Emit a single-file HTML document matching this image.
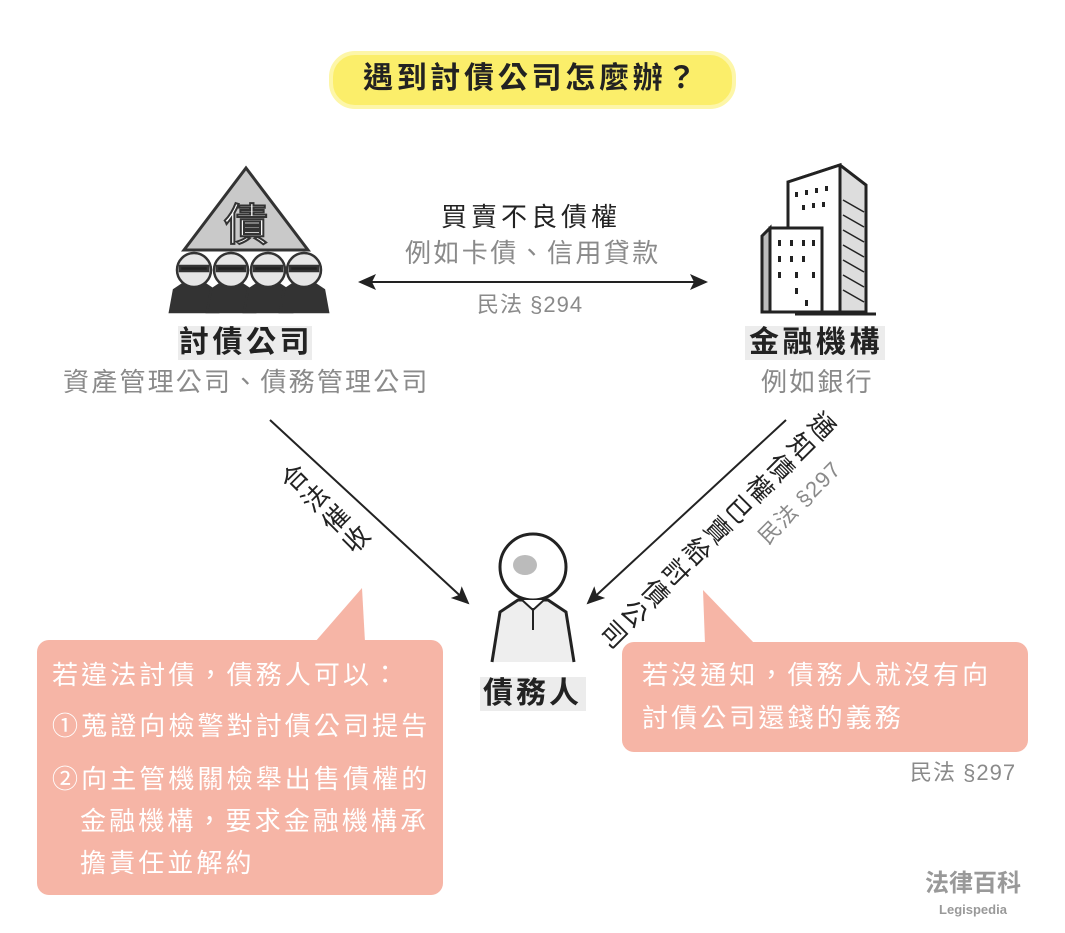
<!DOCTYPE html>
<html><head><meta charset="utf-8">
<style>
body{margin:0;background:#fff;}
#c{position:relative;width:1065px;height:933px;overflow:hidden;font-family:"Liberation Sans","Noto Sans CJK TC",sans-serif;}
.t{position:absolute;white-space:nowrap;line-height:1;}
.c{transform:translateX(-50%);}
.g{color:#8a8a8a;}
.b{font-weight:bold;color:#222;}
.bub{position:absolute;background:#f6b5a6;border-radius:12px;}
.w{color:#fff;font-size:26px;letter-spacing:3.1px;}
</style></head><body>
<div id="c">
<svg width="1065" height="933" style="position:absolute;left:0;top:0">
<defs>
<marker id="ah2" markerWidth="18" markerHeight="18" refX="16" refY="9" orient="auto" markerUnits="userSpaceOnUse" viewBox="0 0 18 18"><path d="M0,1 L18,9 L0,17 L4,9z" fill="#222"/></marker>
<marker id="as" markerWidth="18" markerHeight="18" refX="2" refY="9" orient="auto" markerUnits="userSpaceOnUse" viewBox="0 0 18 18"><path d="M18,1 L0,9 L18,17 L14,9z" fill="#222"/></marker>
</defs>
<rect x="331" y="53" width="403" height="54" rx="24" fill="#fbee6a" stroke="#fdf6a8" stroke-width="4"/>
<polygon points="246,168 308,250 184,250" fill="#c9c9c9" stroke="#333" stroke-width="3"/>
<text x="246" y="240" font-size="44" text-anchor="middle" fill="#fff" stroke="#333" stroke-width="2" font-family="Noto Sans CJK TC">債</text>
<g stroke="#333" stroke-width="2.5">
<g id="p"><path d="M170,312 L174,290 L186,282 L202,282 L214,290 L218,312z" fill="#333"/><circle cx="194" cy="270" r="17" fill="#e6e6e6"/><rect x="180" y="266" width="28" height="5" fill="#222"/></g>
<use href="#p" x="37"/><use href="#p" x="74"/><use href="#p" x="110"/>
</g>
<g stroke="#222" stroke-width="3" fill="#fff">
<polygon points="788,182 840,165 866,185 866,312 788,312" fill="#ddd"/>
<polygon points="788,182 840,165 840,312 788,312"/>
<polygon points="762,236 770,228 770,312 762,312" fill="#bbb"/>
<rect x="770" y="228" width="52" height="84"/>
<line x1="795" y1="314" x2="876" y2="314"/>
</g>
<g fill="#222">
<rect x="795" y="192" width="3" height="5"/><rect x="805" y="190" width="3" height="5"/><rect x="815" y="188" width="3" height="5"/><rect x="825" y="186" width="3" height="5"/>
<rect x="802" y="205" width="3" height="5"/><rect x="812" y="203" width="3" height="5"/><rect x="822" y="202" width="3" height="5"/>
<rect x="778" y="240" width="3" height="6"/><rect x="790" y="240" width="3" height="6"/><rect x="802" y="240" width="3" height="6"/><rect x="812" y="240" width="3" height="6"/>
<rect x="778" y="256" width="3" height="6"/><rect x="790" y="256" width="3" height="6"/><rect x="802" y="256" width="3" height="6"/>
<rect x="778" y="272" width="3" height="6"/><rect x="795" y="272" width="3" height="6"/><rect x="812" y="272" width="3" height="6"/>
<rect x="795" y="288" width="3" height="6"/><rect x="805" y="300" width="3" height="6"/>
</g>
<g stroke="#222" stroke-width="1.5"><line x1="843" y1="200" x2="864" y2="212"/><line x1="843" y1="215" x2="864" y2="227"/><line x1="843" y1="230" x2="864" y2="242"/><line x1="843" y1="245" x2="864" y2="257"/><line x1="843" y1="260" x2="864" y2="272"/><line x1="843" y1="275" x2="864" y2="287"/><line x1="843" y1="290" x2="864" y2="302"/></g>
<rect x="745" y="326" width="140" height="34" fill="#ececec"/>
<rect x="178" y="326" width="134" height="34" fill="#ececec"/>
<rect x="480" y="677" width="106" height="34" fill="#ececec"/>
<line x1="360" y1="282" x2="706" y2="282" stroke="#222" stroke-width="2" marker-start="url(#as)" marker-end="url(#ah2)"/>
<line x1="270" y1="420" x2="468" y2="603" stroke="#222" stroke-width="2" marker-end="url(#ah2)"/>
<line x1="786" y1="420" x2="588" y2="603" stroke="#222" stroke-width="2" marker-end="url(#ah2)"/>
<g stroke="#222" stroke-width="3">
<path d="M492,662 L500,612 L518,600 L548,600 L566,612 L574,662" fill="#eee"/>
<circle cx="533" cy="567" r="33" fill="#fff"/>
<ellipse cx="525" cy="565" rx="12" ry="10" fill="#bbb" stroke="none"/>
<path d="M522,600 L533,610 L544,600" fill="#fff" stroke-width="2"/>
<line x1="533" y1="608" x2="533" y2="630" stroke-width="2"/>
</g>
<polygon points="315,642 365,642 362,588" fill="#f6b5a6"/>
<polygon points="705,644 755,644 703,590" fill="#f6b5a6"/>
</svg>
<div class="t b" style="left:363px;top:64px;font-size:30px;letter-spacing:3.7px">遇到討債公司怎麼辦？</div>
<div class="t" style="left:441px;top:204px;font-size:26px;letter-spacing:4px;color:#222">買賣不良債權</div>
<div class="t g" style="left:405px;top:240px;font-size:26px;letter-spacing:2.4px">例如卡債、信用貸款</div>
<div class="t g" style="left:477px;top:294px;font-size:22px;letter-spacing:1px">民法 §294</div>
<div class="t b" style="left:179px;top:328px;font-size:30px;letter-spacing:3.5px">討債公司</div>
<div class="t g" style="left:63px;top:369px;font-size:26px;letter-spacing:2.2px">資產管理公司、債務管理公司</div>
<div class="t b" style="left:749px;top:328px;font-size:30px;letter-spacing:3.5px">金融機構</div>
<div class="t g" style="left:761px;top:369px;font-size:26px;letter-spacing:2.2px">例如銀行</div>
<div class="t b" style="left:483px;top:679px;font-size:30px;letter-spacing:3px">債務人</div>
<div class="t" style="left:325px;top:510px;font-size:26px;letter-spacing:3px;color:#222;writing-mode:vertical-rl;transform:translate(-50%,-50%) rotate(-45deg);">合法催收</div>
<div class="t" style="left:716px;top:530px;font-size:26px;letter-spacing:3.5px;color:#222;writing-mode:vertical-rl;transform:translate(-50%,-50%) rotate(45deg);">通知債權已賣給討債公司</div>
<div class="t g" style="left:800px;top:503px;font-size:22px;letter-spacing:1px;transform:translate(-50%,-50%) rotate(-45deg);">民法 §297</div>
<div class="bub" style="left:37px;top:640px;width:406px;height:255px"></div>
<div class="t w" style="left:52px;top:662px">若違法討債，債務人可以：</div>
<div class="t w" style="left:52px;top:713px">①蒐證向檢警對討債公司提告</div>
<div class="t w" style="left:52px;top:766px">②向主管機關檢舉出售債權的</div>
<div class="t w" style="left:80px;top:808px">金融機構，要求金融機構承</div>
<div class="t w" style="left:80px;top:850px">擔責任並解約</div>
<div class="bub" style="left:622px;top:642px;width:406px;height:110px"></div>
<div class="t w" style="left:642px;top:662px">若沒通知，債務人就沒有向</div>
<div class="t w" style="left:642px;top:705px">討債公司還錢的義務</div>
<div class="t g" style="left:910px;top:762px;font-size:22px;letter-spacing:1px">民法 §297</div>
<div class="t c" style="left:973px;top:872px;font-size:24px;color:#999;font-weight:bold">法律百科</div>
<div class="t c" style="left:973px;top:903px;font-size:13px;color:#999;font-weight:bold">Legispedia</div>
</div>
</body></html>
